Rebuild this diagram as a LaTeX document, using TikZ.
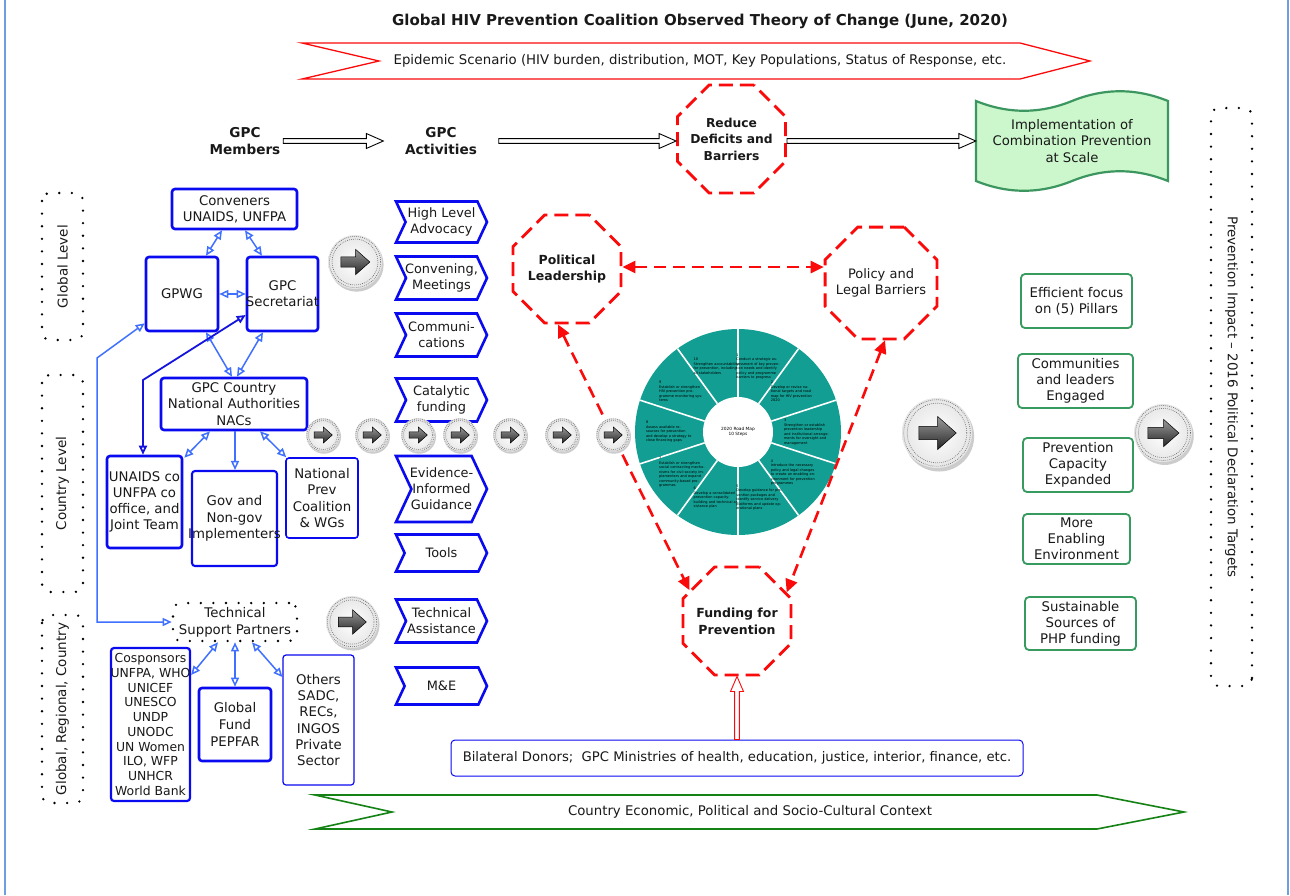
\documentclass[tikz,border=0pt]{standalone}
\usepackage{fontspec}
\setmainfont{DejaVu Sans}
\usetikzlibrary{shapes.geometric,shapes.symbols,arrows.meta,calc}
\newcommand\fs[2]{\fontsize{#1}{#2}\selectfont}
\newcommand\zw[1]{\makebox[0pt]{#1}}
\definecolor{bblue}{RGB}{10,10,240}
\definecolor{dblue}{RGB}{20,20,220}
\definecolor{lblue}{RGB}{64,112,255}
\definecolor{rred}{RGB}{250,10,10}
\definecolor{gbox}{RGB}{55,155,95}
\definecolor{gimpl}{RGB}{60,150,95}
\definecolor{gfill}{RGB}{204,247,204}
\definecolor{gctx}{RGB}{20,130,20}
\definecolor{teal1}{RGB}{18,158,146}
\definecolor{framec}{RGB}{110,160,225}
\definecolor{txt}{RGB}{25,25,25}
\newcommand\harr[3][black]{\draw[#1, line width=0.9pt, fill=white] let \p1=#2, \p2=#3 in (\x1,\y1+2.4pt) -- (\x2-17pt,\y1+2.4pt) -- (\x2-17pt,\y1+7.5pt) -- (\x2,\y1) -- (\x2-17pt,\y1-7.5pt) -- (\x2-17pt,\y1-2.4pt) -- (\x1,\y1-2.4pt) -- cycle;}
\newcommand\varr[3][rred]{\draw[#1, line width=0.9pt, fill=white] let \p1=#2, \p2=#3 in (\x1-2.4pt,\y1) -- (\x1-2.4pt,\y2-15pt) -- (\x1-6.5pt,\y2-15pt) -- (\x1,\y2) -- (\x1+6.5pt,\y2-15pt) -- (\x1+2.4pt,\y2-15pt) -- (\x1+2.4pt,\y1) -- cycle;}
\tikzset{
 circarr/.pic={
  \fill[black!20] (0.06,0.1) circle (1);
  \shade[inner color=white, outer color=black!10] (0,0) circle (1);
  \draw[black!60, line width=0.7pt, dash pattern=on 0.7pt off 1.3pt] (0,0) circle (0.95);
  \draw[black!60, line width=0.7pt, dash pattern=on 0.7pt off 1.3pt] (0,0) circle (0.85);
  \draw[black, line width=0.5pt, top color=black!40, bottom color=black!85] (-0.52,-0.19) -- (0.02,-0.19) -- (0.02,-0.47) -- (0.55,0) -- (0.02,0.47) -- (0.02,0.19) -- (-0.52,0.19) -- cycle;
 },
 bbox/.style={draw=bblue, line width=2.6pt, rounded corners=3pt, fill=white, align=center, inner sep=0pt, text=txt, font=\fs{13.3}{16.2}},
 gbx/.style={draw=gbox, line width=1.8pt, rounded corners=4pt, fill=white, align=center, inner sep=0pt, text=txt, font=\fs{13.3}{16}},
 chev/.style={signal, signal to=east, signal from=west, signal pointer angle=130, draw=bblue, line width=2.6pt, fill=white, align=center, inner sep=0pt, minimum width=91pt, text=txt, font=\fs{12.9}{16}},
 oct/.style={regular polygon, regular polygon sides=8, draw=rred, line width=2.8pt, dash pattern=on 14pt off 7pt, align=center, inner sep=0pt, text=txt},
 dotbox/.style={draw=black, line width=2.6pt, dash pattern=on 0pt off 12.6pt, line cap=round, rounded corners=8pt, text=txt, inner sep=0pt},
 lb/.style={draw=lblue, line width=1.5pt, >={Triangle[open,length=9pt,width=8pt]}, <->},
 lbs/.style={draw=lblue, line width=1.5pt, >={Triangle[open,length=9pt,width=8pt]}, ->},
 db/.style={draw=dblue, line width=1.8pt, >={Triangle[open,length=9pt,width=8pt]}, <->},
 rarr/.style={draw=rred, line width=2.6pt, dash pattern=on 12pt off 7pt, >={Triangle[length=13pt,width=12pt]}, <->},
 hdr/.style={font=\bfseries\fs{13.6}{17.5}, align=center, inner sep=0pt, text=txt},
 segtxt/.style={text width=46pt, align=left, inner sep=0pt, font=\fs{3.5}{4.5}, text=black}
}
\begin{document}
\begin{tikzpicture}[x=1pt,y=-1pt]
\useasboundingbox (0,0) rectangle (1290,895);
\fill[white] (0,0) rectangle (1290,895);
\draw[framec, line width=2pt] (5,0) -- (5,895);
\draw[framec, line width=2pt] (1288,0) -- (1288,895);

% title and epidemic banner
\node[font=\bfseries\fs{15}{18}, text=txt] (title) at (700,21) {Global HIV Prevention Coalition Observed Theory of Change (June, 2020)};
\draw[rred, line width=1.3pt, fill=white] (302,43) -- (1020,43) -- (1090,61) -- (1020,79) -- (302,79) -- (379,61) -- cycle;
\node[font=\fs{13.3}{16}, text=txt] (epi) at (700,61) {Epidemic Scenario (HIV burden, distribution, MOT, Key Populations, Status of Response, etc.};

% top row
\node[hdr, minimum width=76pt] (hm) at (245,141) {GPC\\Members};
\node[hdr, minimum width=115pt] (ha) at (441,141) {GPC\\Activities};
\node[oct, minimum size=117pt, font=\bfseries\fs{12.3}{16.5}] (rdb) at (731.5,139) {\zw{Reduce}\\\zw{Deficits and}\\\zw{Barriers}};
\filldraw[draw=gimpl, fill=gfill, line width=2.2pt] (976,101) .. controls (1008,114) and (1040,114) .. (1072,101) .. controls (1104,88) and (1136,88) .. (1168,101) -- (1168,181) .. controls (1136,168) and (1104,168) .. (1072,181) .. controls (1040,194) and (1008,194) .. (976,181) -- cycle;
\node[minimum width=192pt, minimum height=80pt, align=center, inner sep=0pt, font=\fs{13.2}{16.5}, text=txt] (impl) at (1072,141) {\zw{Implementation of}\\\zw{Combination Prevention}\\\zw{at Scale}};
\harr{(hm.east)}{(ha.west)}
\harr{(ha.east)}{(rdb.west)}
\harr{($(rdb.east)+(0,2)$)}{(impl.west)}

% side dotted boxes
\node[dotbox, rotate=90, minimum width=147pt, minimum height=41pt, font=\fs{13.5}{16}] (glv) at (62.5,266.5) {Global Level};
\node[dotbox, rotate=90, minimum width=217pt, minimum height=41pt, font=\fs{13.5}{16}] (clv) at (62.5,483.5) {Country Level};
\node[dotbox, rotate=90, minimum width=188pt, minimum height=41pt, font=\fs{13.5}{16}] (grc) at (62.5,709) {Global, Regional, Country};
\node[dotbox, rotate=-90, minimum width=578pt, minimum height=41pt, font=\fs{13.4}{16}] (pit) at (1231.5,397) {Prevention Impact – 2016 Political Declaration Targets};

% members boxes
\node[bbox, minimum width=125pt, minimum height=40pt] (conv) at (234.5,209) {\zw{Conveners}\\\zw{UNAIDS, UNFPA}};
\node[bbox, minimum width=72pt, minimum height=74pt] (gpwg) at (182,294) {GPWG};
\node[bbox, minimum width=71pt, minimum height=74pt] (sec) at (282.5,294) {\zw{GPC}\\\zw{Secretariat}};
\node[bbox, minimum width=146pt, minimum height=52pt] (nac) at (234,404) {\zw{GPC Country}\\\zw{National Authorities}\\\zw{NACs}};
\node[bbox, minimum width=75pt, minimum height=92pt] (unco) at (144.5,502) {\zw{UNAIDS co}\\\zw{UNFPA co}\\\zw{office, and}\\\zw{Joint Team}};
\node[bbox, line width=2.1pt, minimum width=85pt, minimum height=95pt] (gov) at (234.5,518.5) {\zw{Gov and}\\\zw{Non-gov}\\\zw{Implementers}};
\node[bbox, line width=1.6pt, minimum width=72pt, minimum height=80pt] (natprev) at (322,498) {\zw{National}\\\zw{Prev}\\\zw{Coalition}\\\zw{\& WGs}};
\node[dotbox, minimum width=124pt, minimum height=38pt, align=center, font=\fs{13.3}{17}] (tsp) at (235,622) {\zw{Technical}\\\zw{Support Partners}};
\node[bbox, line width=2.2pt, minimum width=79pt, minimum height=153pt, font=\fs{12.4}{14.7}] (cosp) at (150.5,724.5) {\zw{Cosponsors}\\\zw{UNFPA, WHO}\\\zw{UNICEF}\\\zw{UNESCO}\\\zw{UNDP}\\\zw{UNODC}\\\zw{UN Women}\\\zw{ILO, WFP}\\\zw{UNHCR}\\\zw{World Bank}};
\node[bbox, minimum width=72pt, minimum height=73pt, font=\fs{13.3}{16.8}] (gf) at (235,724.5) {\zw{Global}\\\zw{Fund}\\\zw{PEPFAR}};
\node[bbox, line width=1.2pt, minimum width=71pt, minimum height=130pt] (oth) at (318.5,720) {\zw{Others}\\\zw{SADC,}\\\zw{RECs,}\\\zw{INGOS}\\\zw{Private}\\\zw{Sector}};

% member connectors
\draw[lb] (222,0 |- conv.south) -- (206,0 |- gpwg.north);
\draw[lb] (245,0 |- conv.south) -- (262,0 |- sec.north);
\draw[lb] (gpwg.east) -- (sec.west);
\draw[lb] (206,0 |- gpwg.south) -- (232,0 |- nac.north);
\draw[lb] (263,0 |- sec.south) -- (237,0 |- nac.north);
\draw[db] ($(sec.west)+(0,21)$) -- (143,380) -- (143,0 |- unco.north);
\draw[lb] (tsp.west) -- (97,0 |- tsp.west) -- (97,358) -- ($(gpwg.south west)+(0,-9)$);
\draw[lb] (210,0 |- nac.south) -- ($(unco.north east)+(1,3)$);
\draw[lbs] (235,0 |- nac.south) -- (235,0 |- gov.north);
\draw[lb] (260,0 |- nac.south) -- ($(natprev.north west)+(1,0)$);
\draw[lb] (218,0 |- tsp.south) -- (cosp.east |- 0,675);
\draw[lb] (235,0 |- tsp.south) -- (235,0 |- gf.north);
\draw[lb] (252,0 |- tsp.south) -- (oth.west |- 0,677);

% activities
\node[chev, minimum height=41pt] (ch1) at (441.5,222) {\zw{High Level}\\\zw{Advocacy}};
\node[chev, minimum height=43pt] (ch2) at (441.5,278) {\zw{Convening,}\\\zw{Meetings}};
\node[chev, minimum height=43pt] (ch3) at (441.5,335) {\zw{Communi-}\\\zw{cations}};
\node[chev, minimum height=43pt] (ch4) at (441.5,400) {\zw{Catalytic}\\\zw{funding}};
\node[chev, minimum height=66pt] (ch5) at (441.5,489) {\zw{Evidence-}\\\zw{Informed}\\\zw{Guidance}};
\node[chev, minimum height=37pt] (ch6) at (441.5,553) {\zw{Tools}};
\node[chev, minimum height=43pt] (ch7) at (441.5,621) {\zw{Technical}\\\zw{Assistance}};
\node[chev, minimum height=37pt] (ch8) at (441.5,686) {\zw{M\&E}};

% wheel
\node[circle, fill=teal1, minimum size=206pt, inner sep=0pt] (wheel) at (738,432) {};
\foreach \a in {18,54,...,342}
  \draw[white, line width=1.6pt] ($(wheel.center)+(\a:35)$) -- ($(wheel.center)+(\a:103)$);
\node[circle, fill=white, minimum size=70pt, inner sep=0pt, align=center, font=\fs{4.3}{5.5}] (wc) at (wheel.center) {2020 Road Map\\10 Steps};
\foreach \k/\t in {
 1/{Conduct a strategic assessment of key prevention needs and identify policy and programme barriers to progress},
 2/{Develop or revise national targets and road map for HIV prevention 2020},
 3/{Strengthen or establish prevention leadership and institutional arrangements for oversight and management},
 4/{Introduce the necessary policy and legal changes to create an enabling environment for prevention programmes},
 5/{Develop guidance for prevention packages and identify service delivery platforms and update operational plans},
 6/{Develop a consolidated prevention capacity-building and technical assistance plan},
 7/{Establish or strengthen social contracting mechanisms for civil society implementers and expand community-based programmes},
 8/{Assess available resources for prevention and develop a strategy to close financing gaps},
 9/{Establish or strengthen HIV prevention programme monitoring systems},
 10/{Strengthen accountability for prevention, including all stakeholders}}
  \node[segtxt] (seg\k) at ($(wheel.center)+({-72+36*(\k-1)}:69)$) {\k\\\t};

% red octagons
\node[oct, minimum size=117pt, font=\bfseries\fs{12.5}{16}] (pl) at (567,269) {\zw{Political}\\\zw{Leadership}};
\node[oct, minimum size=121pt, font=\fs{13}{15.5}] (plb) at (881,283) {\zw{Policy and}\\\zw{Legal Barriers}};
\node[oct, minimum size=117pt, font=\bfseries\fs{12.5}{17}] (fund) at (737,621) {\zw{Funding for}\\\zw{Prevention}};
\draw[rarr] (pl.east |- 0,267) -- (plb.west |- 0,267);
\draw[rarr] ($(pl.south)+(-9,0)$) -- (fund.147);
\draw[rarr] ($(plb.south)+(4,0)$) -- (fund.30);

% circle arrows
\pic[scale=27] at (355,262) {circarr};
\pic[scale=26] at (352,622) {circarr};
\pic[scale=35] at (937,433) {circarr};
\pic[scale=29] at (1163,433) {circarr};
\foreach \x in {323,372,418,460,510,562,613}
  \pic[scale=17] at (\x,435) {circarr};

% outcomes
\node[gbx, minimum width=111pt, minimum height=54pt] (g1) at (1076.5,301) {\zw{Efficient focus}\\\zw{on (5) Pillars}};
\node[gbx, minimum width=115pt, minimum height=54pt] (g2) at (1075.5,381) {\zw{Communities}\\\zw{and leaders}\\\zw{Engaged}};
\node[gbx, minimum width=110pt, minimum height=54pt] (g3) at (1078,465) {\zw{Prevention}\\\zw{Capacity}\\\zw{Expanded}};
\node[gbx, minimum width=107pt, minimum height=50pt] (g4) at (1076.5,539) {\zw{More}\\\zw{Enabling}\\\zw{Environment}};
\node[gbx, minimum width=111pt, minimum height=53pt] (g5) at (1080.5,623.5) {\zw{Sustainable}\\\zw{Sources of}\\\zw{PHP funding}};

% bottom
\node[draw=bblue, line width=1pt, rounded corners=4pt, fill=white, minimum width=572pt, minimum height=36pt, inner sep=0pt, font=\fs{13.2}{16}, text=txt] (bil) at (737,758) {\zw{Bilateral Donors;~ GPC Ministries of health, education, justice, interior, finance, etc.}};
\varr{(bil.north)}{(fund.south)}
\draw[gctx, line width=1.6pt, fill=white] (315,795) -- (1097,795) -- (1184,812) -- (1097,829) -- (315,829) -- (392,812) -- cycle;
\node[font=\fs{13.3}{16}, text=txt] (ctx) at (750,812) {Country Economic, Political and Socio-Cultural Context};
\end{tikzpicture}
\end{document}
